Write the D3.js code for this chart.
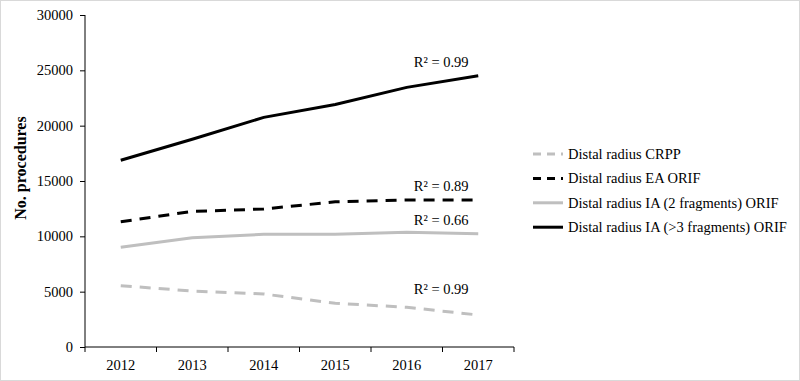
<!DOCTYPE html>
<html>
<head>
<meta charset="utf-8">
<script src="https://cdn.jsdelivr.net/npm/d3@7/dist/d3.min.js"></script>
<style>
  html, body { margin: 0; padding: 0; background: #fff; overflow: hidden; }
  #wrap { width: 800px; height: 381px; box-sizing: border-box; border: 1.5px solid #d9d9d9; position: relative; }
  svg { display: block; position: absolute; left: -1.5px; top: -1.5px; }
</style>
</head>
<body>
<div id="wrap"><svg id="chart"></svg></div>
<script>
// data
const years = ['2012', '2013', '2014', '2015', '2016', '2017'];
const seriesNames = [
  'Distal radius CRPP',
  'Distal radius EA ORIF',
  'Distal radius IA (2 fragments) ORIF',
  'Distal radius IA (>3 fragments) ORIF'
];
const crpp = [5540, 5060, 4790, 3950, 3590, 2890];
const eaOrif = [11320, 12250, 12470, 13120, 13280, 13280];
const ia2Orif = [9010, 9880, 10180, 10190, 10360, 10240];
const ia3Orif = [16870, 18770, 20750, 21920, 23460, 24510];
const rSquared = ['R² = 0.99', 'R² = 0.89', 'R² = 0.66', 'R² = 0.99'];
const yTicks = [0, 5000, 10000, 15000, 20000, 25000, 30000];

const width = 800;
const height = 381;
const margin = { top: 15, left: 85, right: 286, bottom: 34 };
const innerWidth = width - margin.left - margin.right;
const innerHeight = height - margin.top - margin.bottom;
const font = 'Liberation Serif, Times New Roman, serif';

const svg = d3.select('#chart')
  .attr('width', width)
  .attr('height', height)
  .attr('font-family', font);

// scales work in page coordinates so every text sits at plain x/y
const xScale = d3.scaleBand()
  .domain(years)
  .range([margin.left, margin.left + innerWidth]);

const yScale = d3.scaleLinear()
  .domain([0, 30000])
  .range([margin.top + innerHeight, margin.top]);

const x0 = margin.left;
const yBase = margin.top + innerHeight;

const styles = [
  { color: '#bfbfbf', dash: '11,8' },
  { color: '#000000', dash: '11,8' },
  { color: '#bfbfbf', dash: null },
  { color: '#000000', dash: null }
];

const lineData = [crpp, eaOrif, ia2Orif, ia3Orif].map((vals, i) => ({
  name: seriesNames[i],
  r2: rSquared[i],
  style: styles[i],
  values: years.map((y, j) => ({ year: y, value: vals[j] }))
}));

// y axis line + ticks
const yAxis = svg.append('g')
  .attr('transform', `translate(${x0}, 0)`)
  .call(d3.axisLeft(yScale).tickValues(yTicks).tickSize(5));
yAxis.selectAll('text').remove();
yAxis.select('.domain').attr('stroke', '#000').attr('d', `M0,${margin.top}V${yBase}`);

// x axis line + boundary ticks between categories
const xEdges = years.map(y => xScale(y)).concat([xScale.range()[1]]);
svg.append('line')
  .attr('x1', x0).attr('x2', xScale.range()[1])
  .attr('y1', yBase).attr('y2', yBase)
  .attr('stroke', '#000');
svg.append('g')
  .selectAll('line')
  .data(xEdges)
  .join('line')
  .attr('x1', d => d).attr('x2', d => d)
  .attr('y1', yBase).attr('y2', yBase + 5)
  .attr('stroke', '#000');

// tick labels
svg.append('g')
  .selectAll('text')
  .data(yTicks)
  .join('text')
  .attr('x', x0 - 12)
  .attr('y', d => yScale(d) + 5)
  .attr('text-anchor', 'end')
  .attr('font-size', 14.5)
  .attr('fill', '#000')
  .text(d => d3.format('d')(d));

svg.append('g')
  .selectAll('text')
  .data(years)
  .join('text')
  .attr('x', d => xScale(d) + xScale.bandwidth() / 2)
  .attr('y', yBase + 23)
  .attr('text-anchor', 'middle')
  .attr('font-size', 14.5)
  .attr('fill', '#000')
  .text(d => d);

const titleX = 26;
const titleY = margin.top + innerHeight / 2 - 13;
svg.append('text')
  .attr('x', titleX)
  .attr('y', titleY)
  .attr('transform', `rotate(-90, ${titleX}, ${titleY})`)
  .attr('text-anchor', 'middle')
  .attr('font-size', 16)
  .attr('font-weight', 'bold')
  .attr('fill', '#000')
  .text('No. procedures');

// lines
const lineGen = d3.line()
  .x(d => xScale(d.year) + xScale.bandwidth() / 2)
  .y(d => yScale(d.value));

svg.selectAll('.line')
  .data(lineData)
  .join('path')
  .attr('class', 'line')
  .attr('d', d => lineGen(d.values))
  .attr('fill', 'none')
  .attr('stroke', d => d.style.color)
  .attr('stroke-width', 3)
  .attr('stroke-dasharray', d => d.style.dash);

// R² labels
const r2Y = [289, 186, 220, 62];
svg.selectAll('.r2')
  .data(lineData)
  .join('text')
  .attr('class', 'r2')
  .attr('x', xScale('2016') + xScale.bandwidth() / 2 + 7)
  .attr('y', (d, i) => r2Y[i] + 5)
  .attr('font-size', 14.5)
  .attr('fill', '#000')
  .text(d => d.r2);

// legend
const legendX = 533;
const legendY = 154;
const legendStep = 24.4;

svg.selectAll('.legend-line')
  .data(lineData)
  .join('line')
  .attr('class', 'legend-line')
  .attr('x1', legendX).attr('x2', legendX + 30)
  .attr('y1', (d, i) => legendY + i * legendStep)
  .attr('y2', (d, i) => legendY + i * legendStep)
  .attr('stroke', d => d.style.color)
  .attr('stroke-width', 3)
  .attr('stroke-dasharray', d => d.style.dash ? '8,6' : null);

svg.selectAll('.legend-text')
  .data(lineData)
  .join('text')
  .attr('class', 'legend-text')
  .attr('x', legendX + 35)
  .attr('y', (d, i) => legendY + i * legendStep + 5)
  .attr('font-size', 14.5)
  .attr('fill', '#000')
  .text(d => d.name);
</script>
</body>
</html>
